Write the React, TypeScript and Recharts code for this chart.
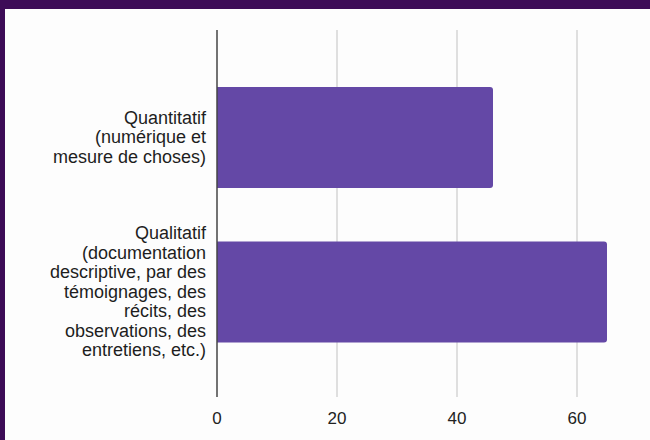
import { BarChart, Bar, XAxis, YAxis, CartesianGrid } from "recharts";

// categories (one entry per bar) and the way each label wraps in the picture
const categories = [
  "Quantitatif (numérique et mesure de choses)",
  "Qualitatif (documentation descriptive, par des témoignages, des récits, des observations, des entretiens, etc.)",
];
const categoryLines = [
  ["Quantitatif", "(numérique et", "mesure de choses)"],
  [
    "Qualitatif",
    "(documentation",
    "descriptive, par des",
    "témoignages, des",
    "récits, des",
    "observations, des",
    "entretiens, etc.)",
  ],
];
const values = [46, 65];
const xTicks = [0, 20, 40, 60];
const xMax = 70;

const chartData = categories.map((name, i) => ({ name, value: values[i] }));

const FONT = "'Liberation Sans', Arial, sans-serif";
const LINE_H = 19.5;

function CategoryTick(props: any) {
  const { x, y, index } = props;
  const lines = categoryLines[index] || [props.payload?.value];
  const startY = y - ((lines.length - 1) * LINE_H) / 2;
  return (
    <text
      x={x}
      y={startY}
      textAnchor="end"
      fill="#1e1e1e"
      fontSize={18}
      fontFamily={FONT}
      dominantBaseline="central"
    >
      {lines.map((l: string, i: number) => (
        <tspan key={i} x={x} y={startY + i * LINE_H}>
          {l}
        </tspan>
      ))}
    </text>
  );
}

// vertical grid lines only at the labelled ticks (not at the domain edge)
const gridX = ({ offset }: any) =>
  xTicks.slice(1).map((t) => offset.left + (t / xMax) * offset.width);

export default function App() {
  return (
    <div
      style={{
        position: "fixed",
        left: 0,
        top: 0,
        width: 650,
        height: 440,
        background: "#3d0c57",
      }}
    >
      <div
        style={{
          position: "absolute",
          left: 5,
          top: 9,
          width: 645,
          height: 431,
          background: "#fdfdfd",
        }}
      >
        <BarChart
          width={645}
          height={431}
          data={chartData}
          layout="vertical"
          margin={{ top: 21, right: 13, bottom: 0, left: 0 }}
        >
          <CartesianGrid
            horizontal={false}
            stroke="#d4d4d4"
            strokeWidth={1.5}
            verticalCoordinatesGenerator={gridX}
          />
          <XAxis
            type="number"
            domain={[0, xMax]}
            ticks={xTicks}
            axisLine={false}
            tickLine={false}
            tickSize={6}
            tickMargin={9}
            height={43}
            tick={{ fill: "#222", fontSize: 17, fontFamily: FONT }}
          />
          <YAxis
            type="category"
            dataKey="name"
            width={212}
            axisLine={{ stroke: "#444", strokeWidth: 1.5 }}
            tickLine={false}
            tickSize={0}
            tickMargin={11}
            padding={{ top: 30, bottom: 28 }}
            tick={<CategoryTick />}
          />
          <Bar
            dataKey="value"
            fill="#6448a6"
            barSize={101}
            radius={[0, 3, 3, 0]}
            isAnimationActive={false}
          />
        </BarChart>
      </div>
    </div>
  );
}
